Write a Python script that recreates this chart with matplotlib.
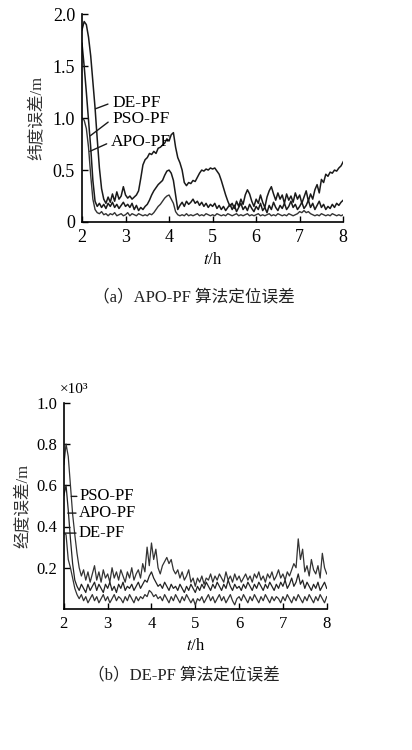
import numpy as np
import matplotlib.pyplot as plt

plt.rcParams['font.family'] = ['Liberation Serif', 'Noto Sans CJK SC']
plt.rcParams['mathtext.fontset'] = 'stix'

# (a) 纬度误差, 0.05 h 间隔, t = 2 ... 8
lat_de = [1.85, 1.93, 1.90, 1.78, 1.60, 1.35, 1.10, 0.80, 0.52, 0.32, 0.22, 0.18, 0.24, 0.19, 0.27, 0.20, 0.29, 0.22, 0.25, 0.34,
          0.26, 0.23, 0.25, 0.22, 0.24, 0.26, 0.30, 0.42, 0.55, 0.60, 0.62, 0.66, 0.65, 0.68, 0.66, 0.71, 0.72, 0.74, 0.76, 0.80,
          0.78, 0.84, 0.86, 0.72, 0.62, 0.57, 0.50, 0.38, 0.35, 0.38, 0.37, 0.40, 0.39, 0.43, 0.47, 0.50, 0.49, 0.51, 0.50, 0.52,
          0.51, 0.52, 0.49, 0.46, 0.40, 0.33, 0.26, 0.20, 0.15, 0.18, 0.13, 0.20, 0.15, 0.22, 0.17, 0.26, 0.31, 0.27, 0.20, 0.15,
          0.22, 0.18, 0.26, 0.19, 0.14, 0.24, 0.30, 0.34, 0.27, 0.21, 0.28, 0.22, 0.26, 0.18, 0.27, 0.21, 0.25, 0.19, 0.28, 0.22,
          0.26, 0.18, 0.24, 0.30, 0.20, 0.27, 0.22, 0.31, 0.36, 0.28, 0.41, 0.38, 0.46, 0.44, 0.48, 0.47, 0.50, 0.49, 0.52, 0.54,
          0.58]
lat_pso = [1.72, 1.50, 1.25, 0.98, 0.72, 0.40, 0.20, 0.15, 0.18, 0.14, 0.17, 0.13, 0.18, 0.15, 0.19, 0.14, 0.17, 0.13, 0.16, 0.19,
           0.15, 0.17, 0.14, 0.18, 0.12, 0.16, 0.11, 0.14, 0.12, 0.15, 0.17, 0.21, 0.26, 0.30, 0.33, 0.36, 0.38, 0.40, 0.45, 0.49,
           0.50, 0.47, 0.40, 0.26, 0.12, 0.16, 0.19, 0.15, 0.20, 0.17, 0.19, 0.22, 0.18, 0.20, 0.16, 0.19, 0.15, 0.18, 0.14, 0.17,
           0.15, 0.18, 0.13, 0.16, 0.12, 0.15, 0.11, 0.14, 0.17, 0.12, 0.16, 0.10, 0.14, 0.18, 0.12, 0.15, 0.11, 0.17, 0.13, 0.10,
           0.15, 0.12, 0.18, 0.11, 0.14, 0.09, 0.16, 0.12, 0.19, 0.14, 0.11, 0.16, 0.13, 0.18, 0.12, 0.15, 0.20, 0.14, 0.17, 0.12,
           0.15, 0.19, 0.13, 0.16, 0.21, 0.14, 0.18, 0.12, 0.16, 0.20, 0.14, 0.17, 0.12, 0.15, 0.13, 0.17, 0.14, 0.18, 0.16, 0.19,
           0.21]
lat_apo = [1.00, 0.98, 0.90, 0.72, 0.45, 0.22, 0.12, 0.09, 0.08, 0.10, 0.07, 0.08, 0.06, 0.08, 0.07, 0.09, 0.06, 0.07, 0.08, 0.06,
           0.07, 0.09, 0.06, 0.08, 0.07, 0.06, 0.08, 0.07, 0.06, 0.07, 0.06, 0.08, 0.07, 0.09, 0.12, 0.15, 0.17, 0.20, 0.23, 0.25,
           0.26, 0.22, 0.18, 0.10, 0.07, 0.06, 0.07, 0.06, 0.08, 0.06, 0.07, 0.06, 0.07, 0.08, 0.06, 0.07, 0.06, 0.08, 0.07, 0.06,
           0.07, 0.06, 0.08, 0.07, 0.06, 0.07, 0.06, 0.08, 0.07, 0.06, 0.07, 0.08, 0.06, 0.07, 0.06, 0.07, 0.08, 0.06, 0.07, 0.06,
           0.07, 0.08, 0.06, 0.07, 0.06, 0.07, 0.08, 0.06, 0.07, 0.06, 0.08, 0.07, 0.06, 0.07, 0.06, 0.08, 0.07, 0.06, 0.07, 0.08,
           0.10, 0.09, 0.11, 0.09, 0.10, 0.08, 0.07, 0.06, 0.07, 0.06, 0.08, 0.07, 0.06, 0.07, 0.06, 0.08, 0.07, 0.06, 0.07, 0.06,
           0.07]

# (b) 经度误差 (×10^3 m)
lon_pso = [0.70, 0.80, 0.74, 0.60, 0.46, 0.36, 0.27, 0.20, 0.16, 0.19, 0.14, 0.18, 0.13, 0.17, 0.21, 0.14, 0.18, 0.13, 0.19, 0.15,
           0.17, 0.13, 0.20, 0.15, 0.18, 0.14, 0.19, 0.16, 0.13, 0.18, 0.15, 0.20, 0.14, 0.17, 0.19, 0.15, 0.22, 0.18, 0.30, 0.21,
           0.32, 0.24, 0.29, 0.20, 0.17, 0.21, 0.23, 0.25, 0.22, 0.24, 0.19, 0.17, 0.19, 0.15, 0.18, 0.14, 0.16, 0.19, 0.13, 0.15,
           0.11, 0.15, 0.13, 0.16, 0.12, 0.15, 0.14, 0.17, 0.13, 0.16, 0.14, 0.17, 0.15, 0.13, 0.18, 0.14, 0.16, 0.13, 0.17, 0.14,
           0.16, 0.13, 0.15, 0.17, 0.14, 0.16, 0.13, 0.17, 0.15, 0.18, 0.14, 0.16, 0.13, 0.17, 0.15, 0.18, 0.14, 0.16, 0.19, 0.15,
           0.17, 0.14, 0.18, 0.16, 0.19, 0.22, 0.20, 0.34, 0.24, 0.29, 0.18, 0.21, 0.16, 0.24, 0.19, 0.17, 0.21, 0.15, 0.27, 0.20,
           0.17]
lon_apo = [0.55, 0.60, 0.48, 0.34, 0.22, 0.14, 0.11, 0.09, 0.12, 0.10, 0.08, 0.12, 0.09, 0.11, 0.13, 0.09, 0.12, 0.10, 0.08, 0.12,
           0.10, 0.13, 0.09, 0.11, 0.08, 0.12, 0.10, 0.13, 0.09, 0.11, 0.10, 0.12, 0.09, 0.11, 0.13, 0.10, 0.12, 0.14, 0.13, 0.16,
           0.18, 0.15, 0.13, 0.11, 0.12, 0.10, 0.13, 0.11, 0.09, 0.12, 0.10, 0.11, 0.09, 0.12, 0.10, 0.08, 0.11, 0.09, 0.12, 0.10,
           0.08, 0.11, 0.09, 0.12, 0.10, 0.13, 0.11, 0.09, 0.12, 0.10, 0.13, 0.11, 0.09, 0.12, 0.10, 0.14, 0.11, 0.09, 0.12, 0.10,
           0.11, 0.09, 0.12, 0.10, 0.13, 0.11, 0.09, 0.12, 0.10, 0.13, 0.11, 0.09, 0.12, 0.10, 0.13, 0.11, 0.09, 0.12, 0.10, 0.13,
           0.11, 0.14, 0.10, 0.12, 0.15, 0.11, 0.13, 0.17, 0.12, 0.14, 0.10, 0.13, 0.11, 0.09, 0.12, 0.10, 0.13, 0.09, 0.11, 0.13,
           0.10]
lon_de = [0.37, 0.36, 0.24, 0.20, 0.15, 0.10, 0.07, 0.05, 0.07, 0.04, 0.06, 0.03, 0.05, 0.07, 0.04, 0.06, 0.03, 0.05, 0.07, 0.04,
          0.06, 0.03, 0.05, 0.07, 0.04, 0.06, 0.05, 0.03, 0.06, 0.04, 0.07, 0.05, 0.03, 0.06, 0.04, 0.06, 0.05, 0.07, 0.06, 0.09,
          0.08, 0.06, 0.07, 0.05, 0.06, 0.04, 0.07, 0.05, 0.03, 0.06, 0.04, 0.07, 0.05, 0.03, 0.06, 0.04, 0.07, 0.05, 0.03, 0.05,
          0.02, 0.05, 0.04, 0.06, 0.03, 0.05, 0.07, 0.04, 0.06, 0.03, 0.05, 0.07, 0.04, 0.06, 0.03, 0.05, 0.07, 0.04, 0.02, 0.05,
          0.06, 0.04, 0.07, 0.05, 0.03, 0.06, 0.04, 0.07, 0.05, 0.03, 0.06, 0.04, 0.07, 0.05, 0.03, 0.06, 0.04, 0.06, 0.05, 0.03,
          0.06, 0.04, 0.07, 0.05, 0.03, 0.06, 0.04, 0.07, 0.05, 0.03, 0.06, 0.04, 0.07, 0.05, 0.03, 0.06, 0.04, 0.07, 0.05, 0.03,
          0.06]

t = np.linspace(2, 8, len(lat_de))

fig = plt.figure(figsize=(4.12, 7.5), dpi=100)
ax1 = fig.add_axes([0.199, 0.704, 0.634, 0.277])
ax2 = fig.add_axes([0.155, 0.188, 0.638, 0.275])

for ax, lsize in ((ax1, 13), (ax2, 12)):
    ax.spines['top'].set_visible(False)
    ax.spines['right'].set_visible(False)
    for s in ('left', 'bottom'):
        ax.spines[s].set_linewidth(1.2)
    ax.tick_params(direction='in', length=4, width=1.0, labelsize=lsize, pad=5)
    ax.set_xlim(2, 8)
    ax.set_xticks(range(2, 9))
    ax.set_xlabel('$t$/h', fontsize=12, labelpad=4)

# 纬度
ax1.plot(t, lat_de, color='#1a1a1a', lw=1.1)
ax1.plot(t, lat_pso, color='#1a1a1a', lw=1.1)
ax1.plot(t, lat_apo, color='#333333', lw=1.0)
ax1.set_ylim(0, 2.0)
ax1.set_yticks([0, 0.5, 1.0, 1.5, 2.0])
ax1.set_yticklabels(['0', '0.5', '1.0', '1.5', '2.0'])
ax1.set_ylabel('纬度误差/m', fontsize=12, color='#333333', labelpad=6)

arrow = dict(arrowstyle='-', lw=1.0, color='#1a1a1a', relpos=(0, 0.5), shrinkA=1, shrinkB=0)
ax1.annotate('DE-PF', xy=(2.31, 1.09), xytext=(2.69, 1.15), fontsize=12.5, va='center', arrowprops=arrow)
ax1.annotate('PSO-PF', xy=(2.19, 0.83), xytext=(2.69, 0.99), fontsize=12.5, va='center', arrowprops=arrow)
ax1.annotate('APO-PF', xy=(2.18, 0.68), xytext=(2.66, 0.77), fontsize=12.5, va='center', arrowprops=arrow)

fig.text(0.47, 0.604, '（a）APO-PF 算法定位误差', fontsize=12, ha='center', va='center', color='#222222')

# 经度
ax2.plot(t, lon_pso, color='#333333', lw=0.9)
ax2.plot(t, lon_apo, color='#222222', lw=0.9)
ax2.plot(t, lon_de, color='#333333', lw=0.9)
ax2.set_ylim(0, 1.0)
ax2.set_yticks([0.2, 0.4, 0.6, 0.8, 1.0])
ax2.set_yticklabels(['0.2', '0.4', '0.6', '0.8', '1.0'])
ax2.set_ylabel('经度误差/m', fontsize=12, color='#333333', labelpad=4)
ax2.text(-0.015, 1.065, '×10³', transform=ax2.transAxes, fontsize=11, ha='left', va='center')

arrow2 = dict(arrowstyle='-', lw=1.0, color='#1a1a1a', relpos=(0, 0.5), shrinkA=0, shrinkB=0)
ax2.annotate('PSO-PF', xy=(2.17, 0.546), xytext=(2.36, 0.546), fontsize=12, va='center', arrowprops=arrow2)
ax2.annotate('APO-PF', xy=(2.09, 0.465), xytext=(2.34, 0.465), fontsize=12, va='center', arrowprops=arrow2)
ax2.annotate('DE-PF', xy=(2.0, 0.368), xytext=(2.34, 0.368), fontsize=12, va='center', arrowprops=arrow2)

fig.text(0.447, 0.1, '（b）DE-PF 算法定位误差', fontsize=12, ha='center', va='center', color='#222222')

fig.savefig('out.png', dpi=100)
